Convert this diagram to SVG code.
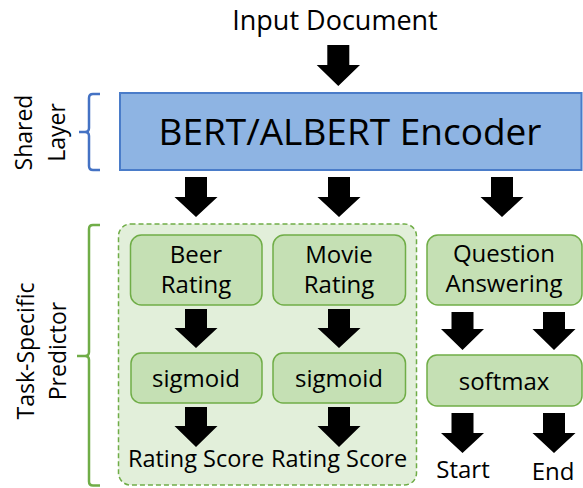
<svg xmlns="http://www.w3.org/2000/svg" width="583" height="488" viewBox="0 0 583 488">
<style>
text{font-family:"Open Sans","Liberation Sans",sans-serif;fill:#000}
.box{fill:#C5E0B4;stroke:#70AD47;stroke-width:1.5}
.bt{font-size:24px;text-anchor:middle}
.out{font-size:23.5px;text-anchor:middle}
.arr{fill:#000}
.side{font-size:23px;text-anchor:middle}
</style>
<rect width="583" height="488" fill="#fff"/>
<text x="335" y="30" font-size="27" text-anchor="middle">Input Document</text>
<g id="shared-bracket">
<path d="M100,94 H93 Q89,94 89,98 V128 Q89,132 85,132 H79 M85,132 Q89,132 89,136 V166 Q89,170 93,170 H100" fill="none" stroke="#4472C4" stroke-width="2.5"/>
<text class="side" transform="translate(32,132.5) rotate(-90)">Shared</text>
<text class="side" transform="translate(65,132.5) rotate(-90)">Layer</text>
</g>
<g id="task-bracket">
<path d="M100,225 H93 Q89,225 89,229 V352 Q89,356 85,356 H77 M85,356 Q89,356 89,360 V481.5 Q89,485.5 93,485.5 H100" fill="none" stroke="#70AD47" stroke-width="2.5"/>
<text class="side" transform="translate(34,351) rotate(-90)">Task-Specific</text>
<text class="side" transform="translate(66,351) rotate(-90)">Predictor</text>
</g>
<g id="encoder">
<rect x="120" y="93" width="461.5" height="77" fill="#8EB4E3" stroke="#4A7CC9" stroke-width="2"/>
<text x="350" y="145" font-size="37" text-anchor="middle">BERT/ALBERT Encoder</text>
</g>
<g id="rating-group">
<rect x="118.5" y="224" width="298" height="261" rx="12" fill="#E2EFDA" stroke="#70AD47" stroke-width="1.5" stroke-dasharray="5,3"/>
</g>
<g id="beer-rating">
<rect class="box" x="130.5" y="235" width="131.5" height="70" rx="11"/>
<text class="bt" x="196" y="263">Beer</text>
<text class="bt" x="196" y="293">Rating</text>
</g>
<g id="movie-rating">
<rect class="box" x="273" y="235" width="132.5" height="70" rx="11"/>
<text class="bt" x="339" y="263">Movie</text>
<text class="bt" x="339" y="293">Rating</text>
</g>
<g id="question-answering">
<rect class="box" x="427" y="235" width="155" height="70" rx="11"/>
<text class="bt" x="504" y="262">Question</text>
<text class="bt" x="504" y="292">Answering</text>
</g>
<g id="sigmoid-1">
<rect class="box" x="131" y="353" width="131" height="50" rx="10"/>
<text class="bt" x="196" y="387">sigmoid</text>
</g>
<g id="sigmoid-2">
<rect class="box" x="273" y="353" width="132.5" height="50" rx="10"/>
<text class="bt" x="339" y="387">sigmoid</text>
</g>
<g id="softmax">
<rect class="box" x="427" y="355" width="155" height="51" rx="10"/>
<text class="bt" x="504" y="390">softmax</text>
</g>
<g id="outputs">
<text class="out" x="196" y="467">Rating Score</text>
<text class="out" x="339" y="467">Rating Score</text>
<text class="bt" x="463" y="478">Start</text>
<text class="bt" x="553" y="480">End</text>
</g>
<g id="connectors" class="arr">
<path d="M327.3,45 H349.3 V65 H360 L338.3,86 L316.7,65 H327.3 Z"/>
<path d="M185,177 H207 V197 H217.5 L196,217 L174.5,197 H185 Z"/>
<path d="M328,177 H350 V197 H360.5 L339,217 L317.5,197 H328 Z"/>
<path d="M491,177 H513 V197 H523.5 L502,217 L480.5,197 H491 Z"/>
<path d="M185,309 H207 V328 H217.5 L196,348 L174.5,328 H185 Z"/>
<path d="M328,309 H350 V328 H360.5 L339,348 L317.5,328 H328 Z"/>
<path d="M451.5,312 H473.5 V329 H484 L462.5,350 L441,329 H451.5 Z"/>
<path d="M543,312 H565 V329 H575.5 L554,350 L532.5,329 H543 Z"/>
<path d="M185,407 H207 V426 H217.5 L196,447 L174.5,426 H185 Z"/>
<path d="M328,407 H350 V426 H360.5 L339,447 L317.5,426 H328 Z"/>
<path d="M451.5,413 H473.5 V433 H484 L462.5,453 L441,433 H451.5 Z"/>
<path d="M543,413 H565 V433 H575.5 L554,453 L532.5,433 H543 Z"/>
</g>
</svg>
